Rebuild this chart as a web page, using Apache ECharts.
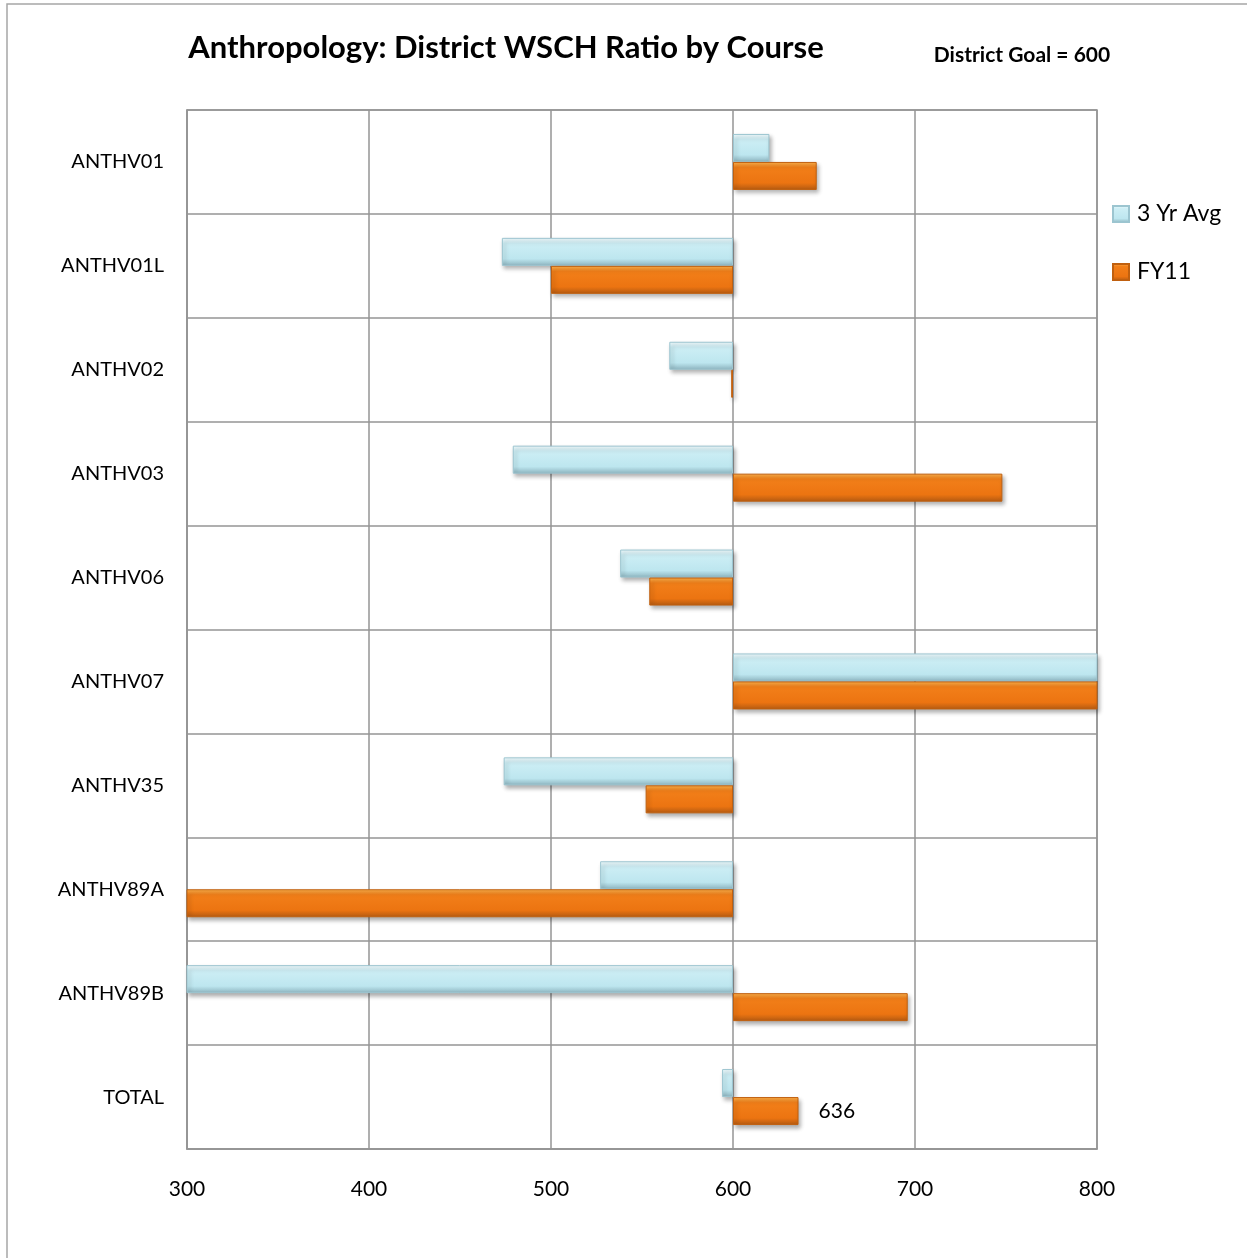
<!DOCTYPE html>
<html>
<head>
<meta charset="utf-8">
<script src="https://cdn.jsdelivr.net/npm/echarts@6/dist/echarts.min.js"></script>
<style>
html,body{margin:0;padding:0;background:#fff;}
#chart{width:1247px;height:1258px;}
</style>
</head>
<body>
<div id="chart"></div>
<script>
const categories = ['ANTHV01','ANTHV01L','ANTHV02','ANTHV03','ANTHV06','ANTHV07','ANTHV35','ANTHV89A','ANTHV89B','TOTAL'];
const avg3yr = [620, 473, 565, 479, 538, 880, 474, 527, 250, 594];
const fy11   = [646, 500, 599, 748, 554, 870, 552, 280, 696, 636];
const goal = 600;
const xTicks = [300, 400, 500, 600, 700, 800];
const seriesNames = ['3 Yr Avg', 'FY11'];
const labelledIndex = 9; // TOTAL FY11 value label

const FONT = 'Lato, "Noto Sans", sans-serif';

function baseOf(arr){ return arr.map(v => Math.min(v, goal)); }
function deltaOf(arr){ return arr.map(v => Math.abs(v - goal)); }

const blueGrad = new echarts.graphic.LinearGradient(0,0,0,1,[
  {offset:0, color:'#f2fbfd'},{offset:0.2, color:'#cdeef5'},
  {offset:0.75, color:'#bde6ef'},{offset:1, color:'#8cb3be'}]);
const orangeGrad = new echarts.graphic.LinearGradient(0,0,0,1,[
  {offset:0, color:'#fdb24c'},{offset:0.2, color:'#f27f19'},
  {offset:0.75, color:'#ec7411'},{offset:1, color:'#b35a12'}]);

const shadow = {shadowBlur:4, shadowOffsetX:2, shadowOffsetY:3, shadowColor:'rgba(0,0,0,0.3)'};

const chart = echarts.init(document.getElementById('chart'), null, {renderer:'canvas'});
chart.setOption({
  backgroundColor:'#ffffff',
  animation:false,
  graphic:[
    {type:'rect', shape:{x:7, y:4, width:1300, height:1300}, style:{fill:'none', stroke:'#a6a6a6', lineWidth:1.5}, silent:true, z:-1},
    {type:'text', x:506, y:48, style:{text:'Anthropology: District WSCH Ratio by Course', font:'bold 31px '+FONT, fill:'#000', textAlign:'center', textVerticalAlign:'middle'}},
    {type:'text', x:1022, y:55, style:{text:'District Goal = 600', font:'bold 21px '+FONT, fill:'#000', textAlign:'center', textVerticalAlign:'middle'}}
  ],
  legend:{
    data: seriesNames.map(n => ({name:n, icon:'rect'})),
    orient:'vertical',
    left:1107, top:197,
    itemWidth:16, itemHeight:16, itemGap:34,
    textStyle:{fontFamily:FONT, fontSize:23, color:'#000', lineHeight:24, padding:[0,0,0,3]}
  },
  grid:{left:187, top:110, right:150, bottom:109, show:true, borderColor:'#959595', borderWidth:1.5},
  xAxis:{
    type:'value', min:xTicks[0], max:xTicks[xTicks.length-1], interval:xTicks[1]-xTicks[0],
    axisLine:{show:true, lineStyle:{color:'#959595', width:1.5}},
    axisTick:{show:false},
    splitLine:{show:true, lineStyle:{color:'#959595', width:1.5}},
    axisLabel:{fontFamily:FONT, fontSize:21, color:'#000', margin:30}
  },
  yAxis:{
    type:'category', inverse:true, data:categories,
    axisLine:{show:true, lineStyle:{color:'#959595', width:1.5}},
    axisTick:{show:false},
    splitLine:{show:true, interval:0, lineStyle:{color:'#959595', width:1.5}},
    axisLabel:{fontFamily:FONT, fontSize:20, color:'#000', margin:23, interval:0}
  },
  series:[
    {name:'avgBase', type:'bar', stack:'a', data:baseOf(avg3yr), barWidth:28, barGap:'0%',
     itemStyle:{color:'transparent'}, silent:true, clip:true},
    {name:seriesNames[0], type:'bar', stack:'a', data:deltaOf(avg3yr), barWidth:28, barGap:'0%', clip:true,
     itemStyle:Object.assign({color:blueGrad, borderColor:'#9cc5d0', borderWidth:1}, shadow)},
    {name:'fyBase', type:'bar', stack:'b', data:baseOf(fy11), barWidth:28, barGap:'0%',
     itemStyle:{color:'transparent'}, silent:true, clip:true},
    {name:seriesNames[1], type:'bar', stack:'b', barWidth:28, barGap:'0%', clip:true,
     data:deltaOf(fy11).map((d,i) => i === labelledIndex ? {value:d, label:{show:true}} : d),
     label:{show:false, position:'right', distance:20, fontFamily:FONT, fontSize:21, color:'#000',
            formatter: p => String(fy11[p.dataIndex])},
     itemStyle:Object.assign({color:orangeGrad, borderColor:'#c0600f', borderWidth:1}, shadow)}
  ]
});
</script>
</body>
</html>
